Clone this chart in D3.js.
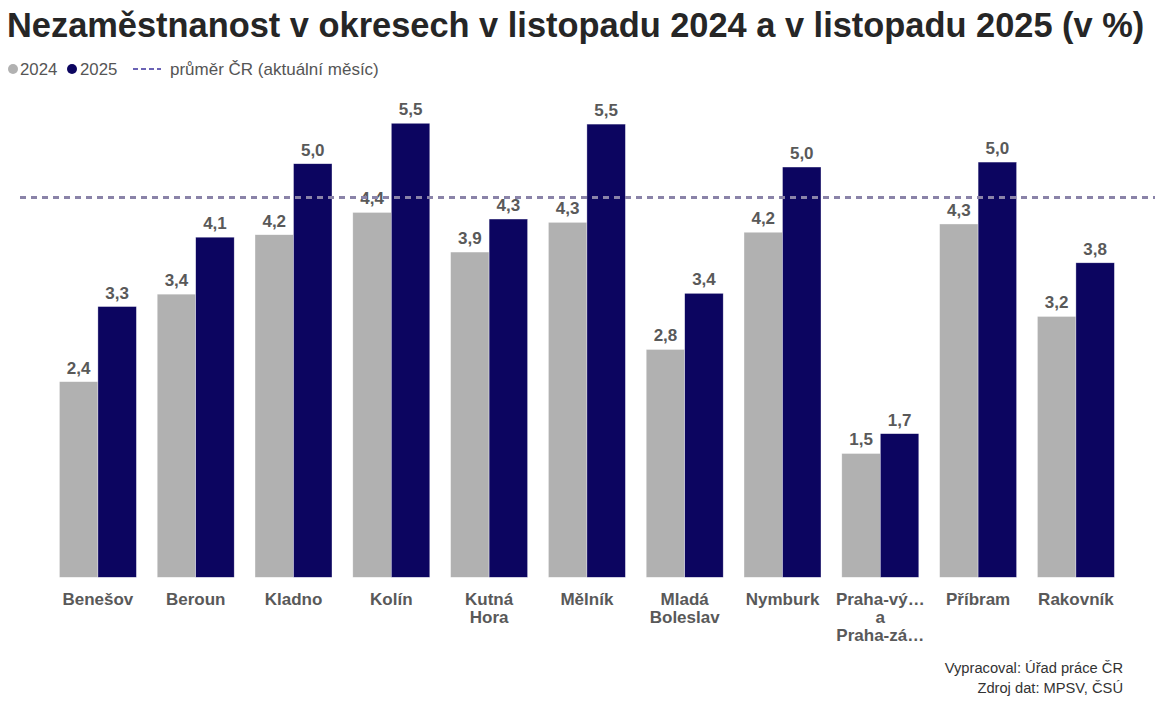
<!DOCTYPE html>
<html>
<head>
<meta charset="utf-8">
<script src="https://cdn.jsdelivr.net/npm/d3@7"></script>
<style>
  html, body { margin: 0; padding: 0; background: #fff; }
  svg { display: block; font-family: "Liberation Sans", Arial, sans-serif; }
</style>
</head>
<body>
<svg id="chart" width="1155" height="705"></svg>
<script>
// ---- data ----
const categories = ["Benešov", "Beroun", "Kladno", "Kolín", "Kutná Hora", "Mělník",
  "Mladá Boleslav", "Nymburk", "Praha-východ a Praha-západ", "Příbram", "Rakovník"];
const tickLabels = [["Benešov"], ["Beroun"], ["Kladno"], ["Kolín"], ["Kutná", "Hora"], ["Mělník"],
  ["Mladá", "Boleslav"], ["Nymburk"], ["Praha-vý…", "a", "Praha-zá…"], ["Příbram"], ["Rakovník"]];
const seriesNames = ["2024", "2025"];
const values2024 = [2.37, 3.43, 4.15, 4.42, 3.94, 4.30, 2.76, 4.18, 1.50, 4.28, 3.16];
const values2025 = [3.28, 4.12, 5.01, 5.50, 4.34, 5.49, 3.44, 4.97, 1.74, 5.03, 3.81];
const averageCR = 4.6;
const yDomain = [0, 6];
const titleText = "Nezaměstnanost v okresech v listopadu 2024 a v listopadu 2025 (v %)";
const legendAvgText = "průměr ČR (aktuální měsíc)";
const sourceLines = ["Vypracoval: Úřad práce ČR", "Zdroj dat: MPSV, ČSÚ"];

// ---- styles ----
const colors = { "2024": "#b1b1b1", "2025": "#0c0560" };
const labelColor = "#595959";

const svg = d3.select("#chart");

// title
svg.append("text")
  .attr("x", 7).attr("y", 37)
  .attr("font-size", 34.4).attr("font-weight", "bold").attr("fill", "#262626")
  .text(titleText);

// scales
const baseline = 577.3;
const y = d3.scaleLinear().domain(yDomain).range([baseline, baseline - 6 * 82.55]);
const x0 = d3.scaleBand().domain(categories).range([49, 49 + 11 * 97.8]).padding(0);
const x1 = d3.scaleBand().domain(seriesNames).range([10.4, 87.4]).padding(0);

const rows = categories.map((c, i) => ({ cat: c, vals: [values2024[i], values2025[i]] }));

// bars
const g = svg.append("g");
const groups = g.selectAll("g.grp").data(rows).join("g")
  .attr("transform", d => `translate(${x0(d.cat)},0)`);
groups.selectAll("rect").data(d => seriesNames.map((s, k) => ({ s, v: d.vals[k] }))).join("rect")
  .attr("x", d => x1(d.s))
  .attr("width", x1.bandwidth())
  .attr("y", d => y(d.v))
  .attr("height", d => y(0) - y(d.v))
  .attr("fill", d => colors[d.s])
  .attr("stroke", "#ffffff").attr("stroke-opacity", 0.6).attr("stroke-width", 0.6);

// average dashed line
svg.append("line")
  .attr("x1", 20).attr("x2", 1155)
  .attr("y1", y(averageCR)).attr("y2", y(averageCR))
  .attr("stroke", "#8a83a8").attr("stroke-width", 3)
  .attr("stroke-dasharray", "6,5");

// data labels
groups.selectAll("text.dl").data(d => seriesNames.map((s, k) => ({ s, v: d.vals[k] }))).join("text")
  .attr("class", "dl")
  .attr("x", d => x1(d.s) + x1.bandwidth() / 2)
  .attr("y", d => y(d.v) - 8)
  .attr("text-anchor", "middle")
  .attr("font-size", 17).attr("font-weight", "bold").attr("fill", labelColor)
  .text(d => d3.format(".1f")(d.v).replace(".", ","));

// x axis (category labels)
const xAxis = svg.append("g")
  .attr("transform", `translate(0,${baseline})`)
  .call(d3.axisBottom(x0).tickSize(0).tickPadding(0));
xAxis.select(".domain").remove();
xAxis.selectAll(".tick text").each(function (d, i) {
  const t = d3.select(this);
  t.text(null).attr("y", 0).attr("dy", null)
    .attr("font-size", 17).attr("font-weight", "bold").attr("fill", labelColor)
    .attr("font-family", "'Liberation Sans', Arial, sans-serif");
  tickLabels[i].forEach((line, j) => {
    t.append("tspan").attr("x", 0).attr("y", 28 + j * 18).text(line);
  });
});

// legend
const leg = svg.append("g");
leg.append("circle").attr("cx", 13).attr("cy", 69).attr("r", 5).attr("fill", colors["2024"]);
leg.append("text").attr("x", 20).attr("y", 75).attr("font-size", 16.8).attr("fill", "#555").text(seriesNames[0]);
leg.append("circle").attr("cx", 72).attr("cy", 69).attr("r", 5).attr("fill", colors["2025"]);
leg.append("text").attr("x", 80).attr("y", 75).attr("font-size", 16.8).attr("fill", "#555").text(seriesNames[1]);
leg.append("line").attr("x1", 133).attr("x2", 161).attr("y1", 69).attr("y2", 69)
  .attr("stroke", "#6b63b5").attr("stroke-width", 2).attr("stroke-dasharray", "5,3");
leg.append("text").attr("x", 170).attr("y", 75).attr("font-size", 17).attr("fill", "#555").text(legendAvgText);

// source
svg.selectAll("text.src").data(sourceLines).join("text")
  .attr("class", "src")
  .attr("x", 1123).attr("y", (d, i) => 673 + i * 20)
  .attr("text-anchor", "end").attr("font-size", 14.7).attr("fill", "#333")
  .text(d => d);
</script>
</body>
</html>
